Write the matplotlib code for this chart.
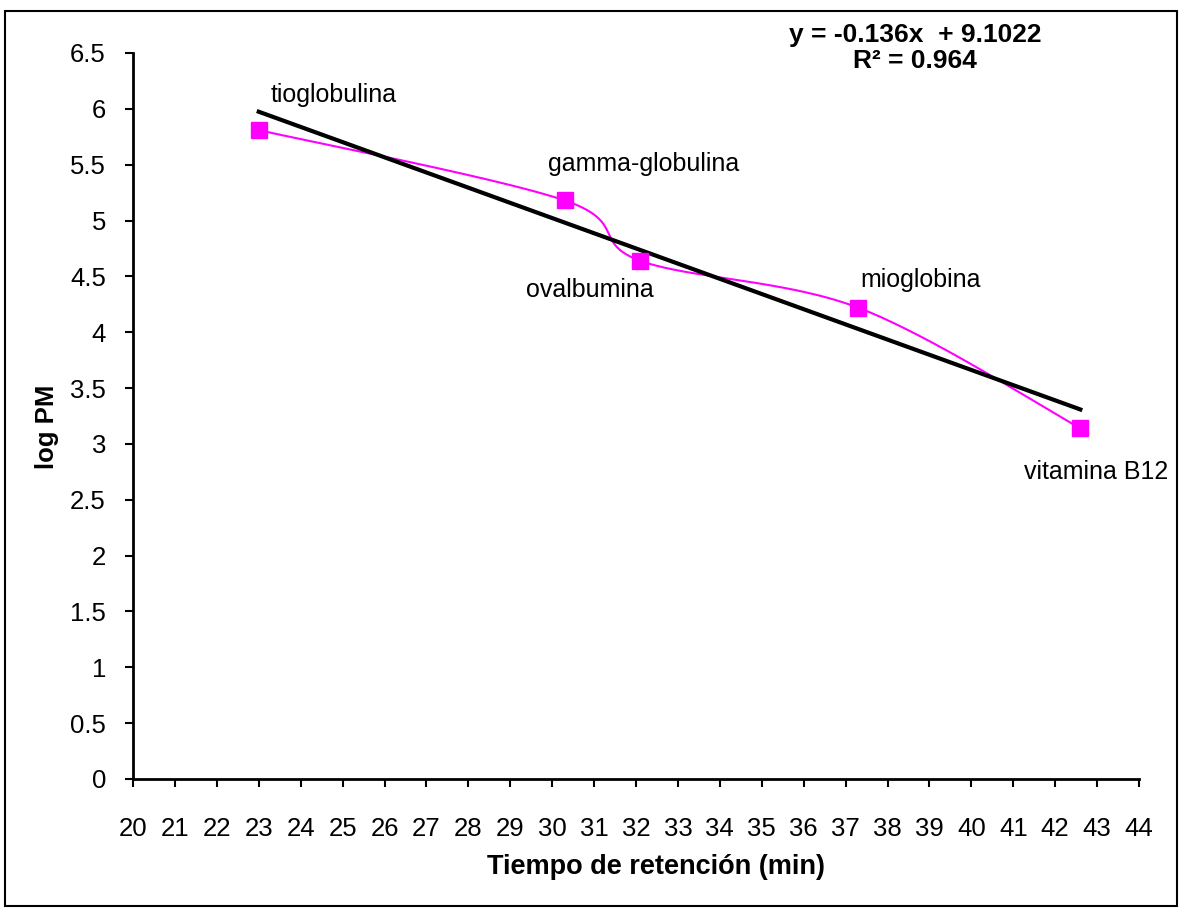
import numpy as np
import matplotlib
matplotlib.use("Agg")
import matplotlib.pyplot as plt
from matplotlib.patches import Rectangle

plt.rcParams['font.family'] = ['Liberation Sans', 'DejaVu Sans']

# data
proteins = ['tioglobulina', 'gamma-globulina', 'ovalbumina', 'mioglobina', 'vitamina B12']
t_ret = [23.0, 30.3, 32.1, 37.3, 42.6]
log_pm = [5.81, 5.18, 4.64, 4.22, 3.14]
label_pos = [(23.28, 6.12), (29.9, 5.51), (29.38, 4.38), (37.35, 4.47), (41.25, 2.75)]
slope, intercept, r2 = -0.136, 9.1022, 0.964

xticks = list(range(20, 45))
yticks = [0, 0.5, 1, 1.5, 2, 2.5, 3, 3.5, 4, 4.5, 5, 5.5, 6, 6.5]

fig = plt.figure(figsize=(11.79, 9.08), dpi=100)
ax = fig.add_axes([133/1179, 1-779/908, (1139-133)/1179, (779-53)/908])
ax.set_xlim(20, 44)
ax.set_ylim(0, 6.5)

# excel-style smoothed line, built in display space
pts = ax.transData.transform(np.column_stack([t_ret, log_pm]))
n = len(pts)
curve = []
for i in range(n - 1):
    p0 = pts[max(i - 1, 0)]
    p1 = pts[i]
    p2 = pts[i + 1]
    p3 = pts[min(i + 2, n - 1)]
    c1 = p1 + (p2 - p0) / 6
    c2 = p2 - (p3 - p1) / 6
    s = np.linspace(0, 1, 60)[:, None]
    seg = (1-s)**3*p1 + 3*(1-s)**2*s*c1 + 3*(1-s)*s**2*c2 + s**3*p2
    curve.append(seg)
curve = ax.transData.inverted().transform(np.vstack(curve))
ax.plot(curve[:, 0], curve[:, 1], color='#ff00ff', lw=1.5, zorder=2)
ax.plot(t_ret, log_pm, ls='none', marker='s', ms=12, color='#ff00ff', zorder=4)

# linear trendline
xt = np.array([t_ret[0], t_ret[-1]])
ax.plot(xt, slope*xt + intercept, color='black', lw=3, zorder=3)

for name, (lx, ly) in zip(proteins, label_pos):
    ax.text(lx, ly, name, fontsize=18, ha='left', va='center')

ax.set_xticks(xticks)
ax.set_yticks(yticks)
ax.set_yticklabels([f'{v:g}' for v in yticks])
ax.tick_params(axis='both', direction='out', length=6, width=1.5, labelsize=18.5)
ax.tick_params(axis='x', pad=21)
ax.tick_params(axis='y', pad=13.5)
for side in ['top', 'right']:
    ax.spines[side].set_visible(False)
for side in ['left', 'bottom']:
    ax.spines[side].set_linewidth(2)

ax.set_xlabel('Tiempo de retención (min)', fontsize=19.5, fontweight='bold', va='center')
ax.xaxis.set_label_coords(0.52, -0.121)
ax.set_ylabel('log PM', fontsize=18.5, fontweight='bold', va='center')
ax.yaxis.set_label_coords(-0.0855, 0.485)

fig.text(915/1179, 1-35/908, f'y = {slope}x  + {intercept}', fontsize=19,
         fontweight='bold', ha='center', va='center')
fig.text(915/1179, 1-61/908, f'R² = {r2}', fontsize=19,
         fontweight='bold', ha='center', va='center')

fig.patches.append(Rectangle((5/1179, 2/908), 1172/1179, 895/908, transform=fig.transFigure,
                             fill=False, edgecolor='black', lw=1.5))

fig.savefig('out.png', dpi=100)
